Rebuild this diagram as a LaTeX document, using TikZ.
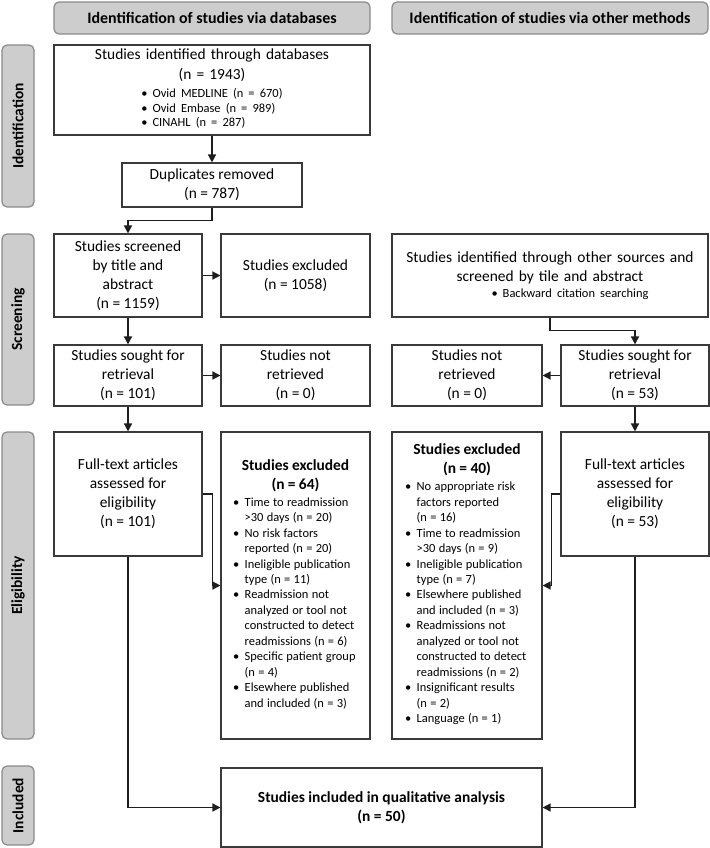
\documentclass[tikz,border=0pt]{standalone}
\usepackage{fontspec}
\setmainfont{Carlito}
\usetikzlibrary{arrows.meta}
\definecolor{boxc}{HTML}{3A3A3A}
\definecolor{hdrfill}{HTML}{CDCDCD}
\definecolor{hdrdraw}{HTML}{8A8A8A}
\definecolor{arrc}{HTML}{1E1E1E}
\newcommand{\mainfs}{\fontsize{15.5}{19}\selectfont}
\newcommand{\listfs}{\fontsize{12.5}{15.5}\selectfont}
\newcommand{\dbfs}{\fontsize{12.5}{14.5}\selectfont}
\newcommand{\titfs}{\fontsize{15.5}{19}\selectfont\bfseries}
\tikzset{
  hdr/.style={draw=hdrdraw, fill=hdrfill, line width=1.2bp, rounded corners=5bp, inner sep=0pt, font=\fontsize{16}{19}\selectfont\bfseries},
  side/.style={hdr, rotate=90, font=\fontsize{15.5}{19}\selectfont\bfseries},
  box/.style={draw=boxc, line width=1.1bp, inner sep=0pt, align=center, font=\mainfs},
  lbox/.style={draw=boxc, line width=1.1bp, inner xsep=12bp, inner ysep=0pt, align=left, text width=125bp, minimum width=149bp},
  arr/.style={draw=arrc, line width=1.4bp, -{Triangle[length=8bp,width=8bp]}},
}
\begin{document}
\begin{tikzpicture}[x=1bp,y=-1bp]
\useasboundingbox (0,0) rectangle (710,848);

% headers
\node[hdr, minimum width=316bp, minimum height=32bp] (h1) at (212,18) {Identification of studies via databases};
\node[hdr, minimum width=316bp, minimum height=32bp] (h2) at (550,18) {Identification of studies via other methods};

% side labels
\node[side, minimum width=162bp, minimum height=32bp] (s1) at (18,126) {Identification};
\node[side, minimum width=171bp, minimum height=32bp] (s2) at (18,319.5) {Screening};
\node[side, minimum width=307bp, minimum height=32bp] (s3) at (18,585.5) {Eligibility};
\node[side, minimum width=79bp, minimum height=32bp] (s4) at (18,805.5) {Included};

% identification
\node[box, text width=300bp, minimum width=316bp, minimum height=90bp] (db) at (212,90)
  {Studies identified through databases\\[1bp](n = 1943)\par\vspace{5bp}
   {\dbfs\begin{tabular}{@{}l@{\hspace{5bp}}l@{}}•&Ovid MEDLINE (n = 670)\\•&Ovid Embase (n = 989)\\•&CINAHL (n = 287)\end{tabular}\par}};
\node[box, minimum width=180bp, minimum height=44bp] (dup) at (212,185) {Duplicates removed\\(n = 787)};

% screening
\node[box, minimum width=148bp, minimum height=83bp] (scr) at (128,275.5) {Studies screened\\by title and\\abstract\\(n = 1159)};
\node[box, minimum width=149bp, minimum height=83bp] (exc1) at (295.5,275.5) {Studies excluded\\(n = 1058)};
\node[box, text width=300bp, minimum width=316bp, minimum height=83bp] (oth) at (550,275.5)
  {Studies identified through other sources and\\screened by tile and abstract\par\vspace{2bp}
   {\dbfs\hspace*{40bp}•\hspace{5bp}Backward citation searching\par}};
\node[box, minimum width=148bp, minimum height=61bp] (sought1) at (128,375.5) {Studies sought for\\retrieval\\(n = 101)};
\node[box, minimum width=149bp, minimum height=61bp] (nr1) at (295.5,375.5) {Studies not\\retrieved\\(n = 0)};
\node[box, minimum width=150bp, minimum height=61bp] (nr2) at (467,375.5) {Studies not\\retrieved\\(n = 0)};
\node[box, minimum width=148bp, minimum height=61bp] (sought2) at (635,375.5) {Studies sought for\\retrieval\\(n = 53)};

% eligibility
\node[box, minimum width=148bp, minimum height=124bp] (ft1) at (128,494) {Full-text articles\\assessed for\\eligibility\\(n = 101)};
\node[box, minimum width=148bp, minimum height=124bp] (ft2) at (635,494) {Full-text articles\\assessed for\\eligibility\\(n = 53)};
\node[lbox, minimum height=307bp] (ex64) at (295.5,585.5)
  {{\centering\titfs Studies excluded\\(n = 64)\par}\vspace{3bp}
   {\listfs\begin{tabular}{@{}l@{\hspace{5.5bp}}l@{}}
   •&Time to readmission\\
    &>30 days (n = 20)\\
   •&No risk factors\\
    &reported (n = 20)\\
   •&Ineligible publication\\
    &type (n = 11)\\
   •&Readmission not\\
    &analyzed or tool not\\
    &constructed to detect\\
    &readmissions (n = 6)\\
   •&Specific patient group\\
    &(n = 4)\\
   •&Elsewhere published\\
    &and included (n = 3)
   \end{tabular}\par}};
\node[lbox, minimum height=307bp, minimum width=150bp, inner xsep=13bp, text width=124bp] (ex40) at (467,585.5)
  {{\centering\titfs Studies excluded\\(n = 40)\par}\vspace{3bp}
   {\listfs\begin{tabular}{@{}l@{\hspace{5.5bp}}l@{}}
   •&No appropriate risk\\
    &factors reported\\
    &(n = 16)\\
   •&Time to readmission\\
    &>30 days (n = 9)\\
   •&Ineligible publication\\
    &type (n = 7)\\
   •&Elsewhere published\\
    &and included (n = 3)\\
   •&Readmissions not\\
    &analyzed or tool not\\
    &constructed to detect\\
    &readmissions (n = 2)\\
   •&Insignificant results\\
    &(n = 2)\\
   •&Language (n = 1)
   \end{tabular}\par}};

% included
\node[box, font=\titfs, minimum width=321bp, minimum height=79bp] (inc) at (381.5,807.5) {Studies included in qualitative analysis\\(n = 50)};

% connectors
\draw[arr] (db.south) -- (dup.north);
\draw[arr] (dup.south) -- ++(0,13) -| (scr.north);
\draw[arr] (scr.east) -- (exc1.west);
\draw[arr] (scr.south) -- (sought1.north);
\draw[arr] (sought1.east) -- (nr1.west);
\draw[arr] (oth.south) -- ++(0,13) -| (sought2.north);
\draw[arr] (sought2.west) -- (nr2.east);
\draw[arr] (sought1.south) -- (ft1.north);
\draw[arr] (sought2.south) -- (ft2.north);
\draw[arr] (ft1.east) -- ++(10,0) |- (ex64.west);
\draw[arr] (ft2.west) -- ++(-9,0) |- (ex40.east);
\draw[arr] (ft1.south) |- (inc.west);
\draw[arr] (ft2.south) |- (inc.east);
\end{tikzpicture}
\end{document}
